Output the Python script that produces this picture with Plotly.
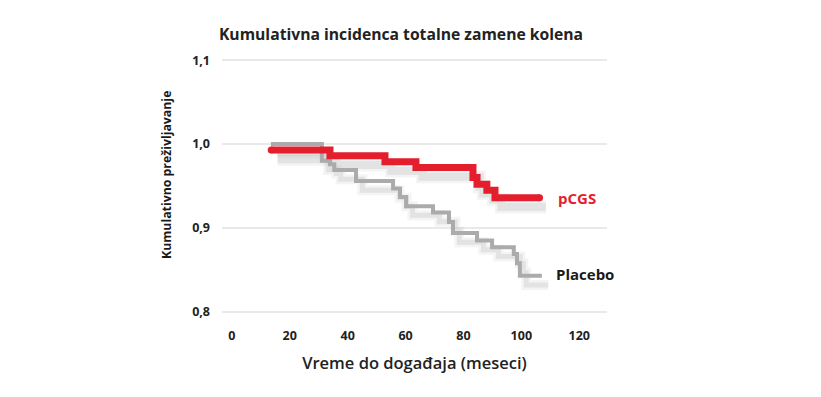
import plotly.graph_objects as go

# ---- data ----
pcgs_months = [13.6, 33.9, 52.9, 63.6, 83.3, 84.7, 88.1, 90.9, 106.3]
pcgs_surv   = [0.993, 0.986, 0.979, 0.972, 0.960, 0.952, 0.945, 0.936, 0.936]

placebo_months = [13.5, 31.1, 33.9, 35.4, 42.9, 55.7, 58.1, 60.2, 69.5, 75.0, 76.4, 84.7, 89.9, 97.4, 98.5, 99.5, 107.1]
placebo_surv   = [1.000, 0.980, 0.976, 0.969, 0.956, 0.947, 0.937, 0.926, 0.9185, 0.907, 0.894, 0.885, 0.877, 0.869, 0.858, 0.843, 0.843]

x_ticks = [0, 20, 40, 60, 80, 100, 120]
y_ticks = [0.8, 0.9, 1.0, 1.1]

title_text = "Kumulativna incidenca totalne zamene kolena"
x_title = "Vreme do događaja (meseci)"
y_title = "Kumulativno preživljavanje"
labels = ["pCGS", "Placebo"]

RED = "#e31e2d"
GREY = "#a9abad"
FONT = "Open Sans"

# page body has an 8px margin; figure is sized/positioned to compensate
OFF = 8
W, H = 821 - OFF, 397 - OFF
ml, mr, mt, mb = 222 - OFF, 214, 56 - OFF, 81
pw, ph = W - ml - mr, H - mt - mb

# shadow offset in data units (drop shadow down-right)
SDX, SDY = 2.2, -0.011

fig = go.Figure()

def add_shadow(xs, ys, width):
    sx = [v + SDX for v in xs]
    sy = [v + SDY for v in ys]
    for w, a in [(width + 6, 0.13), (width + 1, 0.22)]:
        fig.add_trace(go.Scatter(x=sx, y=sy, mode="lines", line_shape="hv",
                                 line=dict(color=f"rgba(170,170,170,{a})", width=w),
                                 hoverinfo="skip", showlegend=False))

add_shadow(placebo_months, placebo_surv, 4)
add_shadow(pcgs_months, pcgs_surv, 7)

fig.add_trace(go.Scatter(x=placebo_months, y=placebo_surv, mode="lines", line_shape="hv",
                         line=dict(color=GREY, width=4), name=labels[1], showlegend=False))
fig.add_trace(go.Scatter(x=pcgs_months, y=pcgs_surv, mode="lines", line_shape="hv",
                         line=dict(color=RED, width=7), name=labels[0], showlegend=False))
# rounded caps at the ends of the red curve
fig.add_trace(go.Scatter(x=[pcgs_months[0], pcgs_months[-1]], y=[pcgs_surv[0], pcgs_surv[-1]],
                         mode="markers", marker=dict(color=RED, size=7, line=dict(width=0)),
                         hoverinfo="skip", showlegend=False))

# end labels
fig.add_annotation(x=pcgs_months[-1], y=pcgs_surv[-1], text="<b>" + labels[0] + "</b>",
                   xshift=16, xanchor="left", yanchor="middle", showarrow=False,
                   font=dict(family=FONT, size=15, color=RED))
fig.add_annotation(x=placebo_months[-1], y=placebo_surv[-1], text="<b>" + labels[1] + "</b>",
                   xshift=12, yshift=2, xanchor="left", yanchor="middle", showarrow=False,
                   font=dict(family=FONT, size=15, color="#1a1a1a"))

# y-axis title as annotation (pixel position in window coordinates)
yt_px, yt_py = 166, 175
fig.add_annotation(x=(yt_px - OFF - ml) / pw, y=(H - mb - (yt_py - OFF)) / ph,
                   xref="paper", yref="paper", text="<b>" + y_title + "</b>",
                   textangle=-90, showarrow=False, xanchor="center", yanchor="middle",
                   font=dict(family=FONT, size=12.3, color="#1a1a1a"))

fig.update_layout(
    width=W, height=H,
    margin=dict(l=ml, r=mr, t=mt, b=mb),
    paper_bgcolor="white", plot_bgcolor="white",
    separators=", ",
    showlegend=False,
    title=dict(text="<b>" + title_text + "</b>", x=(401 - OFF) / W, xanchor="center",
               y=1 - (35 - OFF) / H, yanchor="middle",
               font=dict(family=FONT, size=15.7, color="#222")),
    font=dict(family=FONT, color="#222"),
)

fig.update_xaxes(range=[-3.4, 129.6], tickvals=x_ticks, showgrid=False, zeroline=False,
                 showline=False, ticks="", ticklabelstandoff=10,
                 tickfont=dict(family=FONT, size=12.5, color="#222", weight="bold"),
                 title=dict(text=x_title, standoff=14,
                            font=dict(family=FONT, size=16.5, color="#222", weight=600)))
fig.update_yaxes(range=[0.795, 1.105], tickvals=y_ticks, tickformat=".1f",
                 showgrid=True, gridcolor="#e9e9e9", gridwidth=2, zeroline=False,
                 showline=False, ticks="", ticklabelstandoff=11,
                 tickfont=dict(family=FONT, size=12.5, color="#222", weight="bold"))

fig.write_html("out.html")
